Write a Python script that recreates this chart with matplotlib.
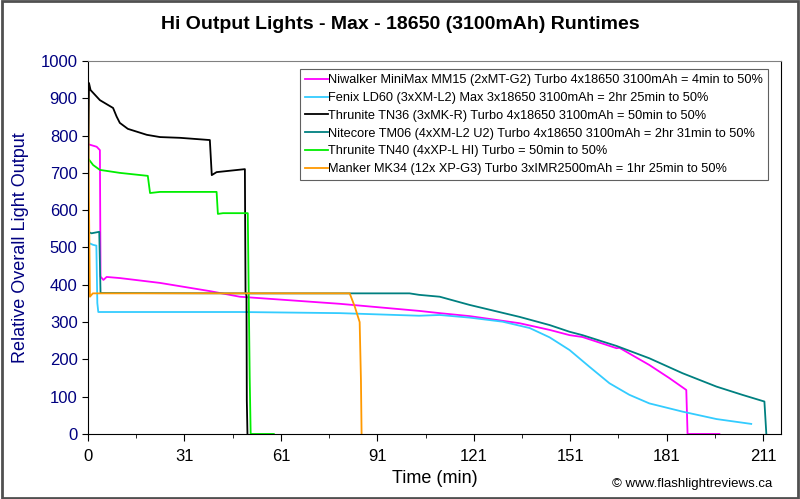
import numpy as np
import matplotlib
matplotlib.use("Agg")
import matplotlib.pyplot as plt
from matplotlib.patches import Rectangle

plt.rcParams['font.family'] = ['Liberation Sans', 'DejaVu Sans']

# runtime data (time in min, relative output)
mm15_t = [0, 2.7, 3.7, 3.9, 4.8, 5.8, 9.9, 22.4, 37.9, 47.2, 78.3, 103, 109.4, 118.7, 134.2,
          143.6, 149.8, 153.8, 164.4, 165.3, 174.6, 180.8, 186.1, 186.5, 196.4]
mm15_v = [777, 770, 761, 422, 413, 421, 418, 405, 383, 368, 349, 330, 324, 316, 297,
          279, 265, 260, 230, 231, 185, 150, 118, 0, 0]

ld60_t = [0, 1.6, 2.6, 2.9, 3.2, 47.2, 78.3, 103, 109.4, 118.7, 129, 137.4, 143.6, 149.8,
          156, 162.2, 168.4, 174.6, 184.9, 195.5, 206.3]
ld60_v = [513, 507, 505, 351, 327, 327, 324, 317, 319, 312, 301, 284, 259, 225,
          180, 136, 105, 82, 60, 40, 27]

tn36_t = [0, 0.3, 0.8, 3.7, 7.8, 8.9, 9.9, 12.4, 18.3, 22.4, 28.6, 37.9, 38.5, 40, 48.8,
          49.0, 49.3, 49.4, 49.6]
tn36_v = [600, 941, 922, 895, 874, 851, 834, 818, 802, 796, 794, 788, 694, 702, 710,
          380, 370, 90, 0]

tm06_t = [0, 1.1, 3.5, 3.9, 47.2, 100, 103, 109.4, 118.7, 134.2, 143.6, 149.8, 153.8,
          164.4, 174.6, 184.9, 195.5, 203.5, 210.4, 211]
tm06_v = [542, 538, 542, 378, 377, 377, 373, 368, 346, 314, 292, 274, 265,
          236, 203, 163, 127, 105, 87, 0]

tn40_t = [0, 1.6, 3.7, 9.9, 18.6, 19.3, 22.4, 40, 40.4, 42, 49.7, 50.3, 50.6, 57.8]
tn40_v = [739, 721, 708, 700, 692, 646, 649, 649, 590, 592, 592, 150, 0, 0]

mk34_t = [0, 0.2, 0.6, 1.5, 47.2, 81.4, 83, 84.5, 84.9, 85.1]
mk34_v = [998, 700, 368, 377, 377, 377, 341, 300, 145, 0]

labels = [
    "Niwalker MiniMax MM15 (2xMT-G2) Turbo 4x18650 3100mAh = 4min to 50%",
    "Fenix LD60 (3xXM-L2) Max 3x18650 3100mAh = 2hr 25min to 50%",
    "Thrunite TN36 (3xMK-R) Turbo 4x18650 3100mAh = 50min to 50%",
    "Nitecore TM06 (4xXM-L2 U2) Turbo 4x18650 3100mAh = 2hr 31min to 50%",
    "Thrunite TN40 (4xXP-L HI) Turbo = 50min to 50%",
    "Manker MK34 (12x XP-G3) Turbo 3xIMR2500mAh = 1hr 25min to 50%",
]
colors = ["#FF00FF", "#33CCFF", "#000000", "#008080", "#00EE00", "#FF9900"]
series = [(mm15_t, mm15_v), (ld60_t, ld60_v), (tn36_t, tn36_v),
          (tm06_t, tm06_v), (tn40_t, tn40_v), (mk34_t, mk34_v)]

xtick_pos = [0, 30, 60, 90, 120, 150, 180, 210]
xtick_lab = ["0", "31", "61", "91", "121", "151", "181", "211"]

fig = plt.figure(figsize=(8, 4.99), dpi=100)
ax = fig.add_axes([0.11, 0.1303, 0.866, 0.7475])

for (t, v), c, lab in zip(series, colors, labels):
    ax.plot(t, v, color=c, lw=1.3, label=lab)

ax.set_xlim(0, 215.5)
ax.set_ylim(0, 1000)
ax.set_xticks(xtick_pos)
ax.set_xticklabels(xtick_lab, fontsize=12)
ax.set_xticks([15, 45, 75, 105, 135, 165, 195], minor=True)
ax.set_yticks(range(0, 1001, 100))
ax.tick_params(axis='y', labelsize=12, labelcolor='#000080', direction='out', length=4)
ax.tick_params(axis='x', which='major', direction='out', length=5, pad=6)
ax.tick_params(axis='x', which='minor', direction='out', length=3)
for s in ['left', 'bottom', 'right']:
    ax.spines[s].set_color('black')
ax.spines['top'].set_color('#808080')

ax.set_xlabel("Time (min)", fontsize=13, labelpad=4)
ax.set_ylabel("Relative Overall Light Output", fontsize=13, color='#000080', labelpad=8)
fig.text(0.5, 0.95, "Hi Output Lights - Max - 18650 (3100mAh) Runtimes",
         ha='center', va='center', fontsize=14, fontweight='bold')
fig.text(0.965, 0.03, "\u00a9 www.flashlightreviews.ca", ha='right', va='center', fontsize=9.5)

leg = ax.legend(loc='upper right', bbox_to_anchor=(0.982, 0.978), fontsize=9.2,
                frameon=True, fancybox=False, edgecolor='#606060', framealpha=1,
                handlelength=1.8, handletextpad=0.05, labelspacing=0.45, borderpad=0.4,
                borderaxespad=0)
leg.get_frame().set_linewidth(0.8)

fig.patches.append(Rectangle((0.002, 0.003), 0.995, 0.994, transform=fig.transFigure,
                             fill=False, edgecolor='#505050', lw=2))

fig.savefig("out.png", dpi=100)
